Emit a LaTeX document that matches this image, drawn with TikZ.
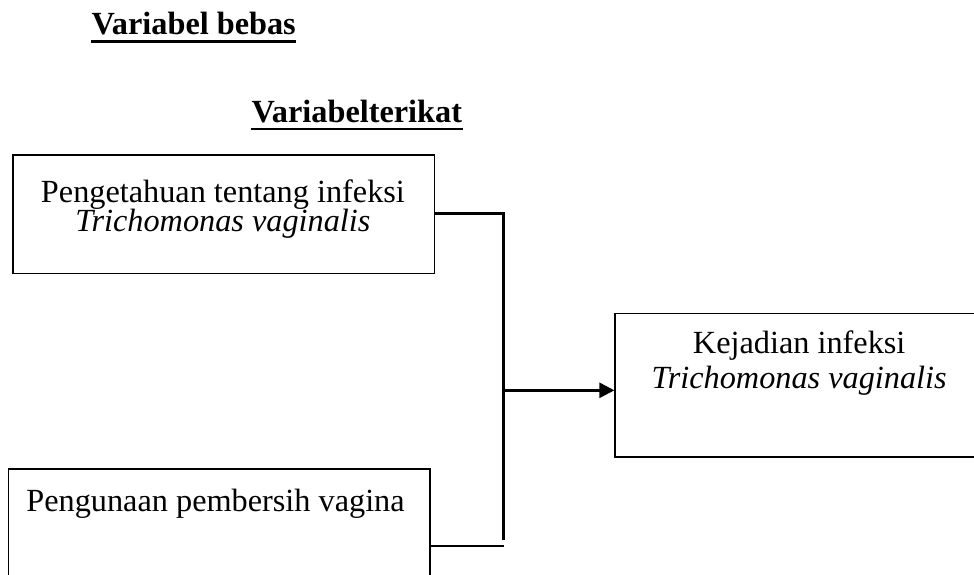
\documentclass[tikz,border=0pt]{standalone}
\usepackage{fontspec}
\setmainfont{Liberation Serif}
\usetikzlibrary{arrows.meta}

\begin{document}
\begin{tikzpicture}[box/.style={draw,rectangle,line width=0.6pt,inner sep=0pt},
  conn/.style={line width=1pt},
  uline/.style={line width=1.1pt},
  lbl/.style={anchor=base,inner sep=0pt,font=\fontsize{12.4}{14}\selectfont}]
\useasboundingbox (0,0) rectangle (13.15,7.75);
% headings
\node[lbl,anchor=base west] (bebas) at (1.23,7.28) {\textbf{Variabel bebas}};
\node[lbl,anchor=base west] (terikat) at (3.39,6.10) {\textbf{Variabelterikat}};
\draw[uline] ([yshift=-2.6pt]bebas.base west) -- ([yshift=-2.6pt]bebas.base east);
\draw[uline] ([yshift=-2.6pt]terikat.base west) -- ([yshift=-2.6pt]terikat.base east);
% boxes
\node[box,minimum width=5.69cm,minimum height=1.60cm] (know) at (3.02,4.86) {};
\node[lbl] (know1) at (3.01,5.01) {Pengetahuan tentang infeksi};
\node[lbl] (know2) at (3.01,4.62) {\textit{Trichomonas vaginalis}};
\node[box,minimum width=5.69cm,minimum height=1.60cm] (use) at (2.96,0.62) {};
\node[lbl] (use1) at (2.91,0.85) {Pengunaan pembersih vagina};
\node[box,minimum width=4.97cm,minimum height=1.94cm] (case) at (10.79,2.55) {};
\node[lbl] (case1) at (10.79,2.98) {Kejadian infeksi};
\node[lbl] (case2) at (10.79,2.50) {\textit{Trichomonas vaginalis}};
% connectors
\coordinate (jtop) at (6.80,4.87);
\coordinate (jbot) at (6.80,0.46);
\coordinate (jlow) at (6.80,0.38);
\coordinate (jmid) at (6.80,2.48);
\draw[conn] (know.east |- jtop) -- (jtop) -- (jbot);
\draw[conn] (use.east |- jlow) -- (jlow);
\draw[conn,-{Triangle[length=5.8pt,width=5.8pt]}] (jmid) -- (case.west |- jmid);
\end{tikzpicture}
\end{document}
